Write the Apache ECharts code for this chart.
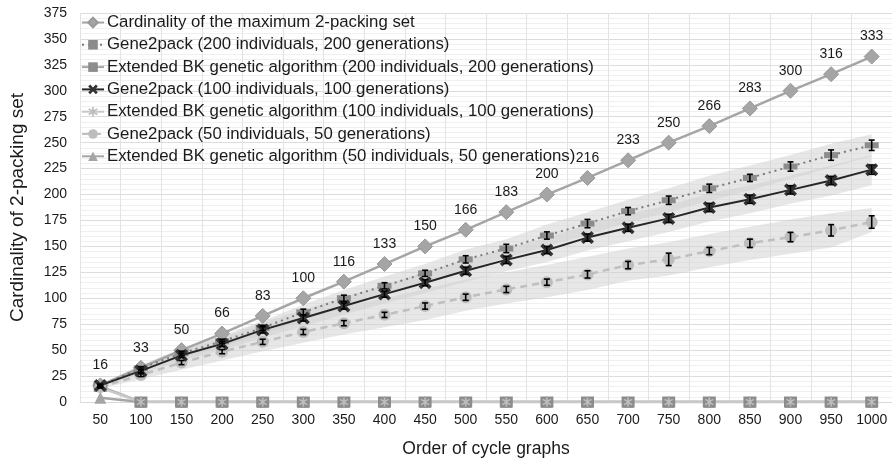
<!DOCTYPE html>
<html>
<head>
<meta charset="utf-8">
<script src="https://cdn.jsdelivr.net/npm/echarts@6/dist/echarts.min.js"></script>
<style>html,body{margin:0;padding:0;background:#fff}#c{width:892px;height:466px}</style>
</head>
<body>
<div id="c"></div>
<script>
var categories = ['50','100','150','200','250','300','350','400','450','500','550','600','650','700','750','800','850','900','950','1000'];
var yTicks = [0,25,50,75,100,125,150,175,200,225,250,275,300,325,350,375];

var maxPacking = [16,33,50,66,83,100,116,133,150,166,183,200,216,233,250,266,283,300,316,333];
var g2p200 = [16,32.5,47,58.5,71.5,86.5,100,112,124,137.5,148,160.5,172,184,194.5,206,216,227,238,247.5];
var g2p200Err = [1,1.5,2,2,2.5,3,3,3,3,3.5,4,3.5,4,3.5,4,4,3.5,4.5,5,5];
var g2p200Lo = [15,29,43,53,65,79,92,103,115,128,139,150,161,173,183,194,204,215,226,237];
var g2p200Hi = [17,36,51,64,78,94,108,121,133,147,157,171,183,195,206,218,228,238,249,258];
var ebk200 = [15,0,0,0,0,0,0,0,0,0,0,0,0,0,0,0,0,0,0,0];
var g2p100 = [16,30,45,56,69.5,81,92.5,104,115,126.5,137,146.5,158.5,168,177,187.5,195.5,204.5,213.5,224];
var g2p100Err = [1,1.5,2,2.5,3,3,3,3,3,3.5,3.5,3.5,3.5,3.5,4,4,4,4,4,4.5];
var g2p100Lo = [15,27,40,50,62,73,84,95,105,116,126,135,146,155,164,174,182,191,199,209];
var g2p100Hi = [17,33,50,62,77,89,101,113,125,137,148,158,171,181,190,201,209,218,228,238];
var ebk100 = [14,0,0,0,0,0,0,0,0,0,0,0,0,0,0,0,0,0,0,0];
var g2p50 = [14.5,26,38,48.5,58,67.5,76,84,92.5,101,108.5,115.5,123,132,137.5,145.5,153,159,165.5,173.5];
var g2p50Err = [1,1.5,2,2,2.5,2.5,2.5,2.5,3,3,3,3,3.5,3.5,6,3.5,4,4.5,5.5,6];
var g2p50Lo = [13,22,31,40,49,57,65,72,79,88,95,101,108,117,122,130,137,143,149,164];
var g2p50Hi = [16,30,45,58,70,82,92,100,109,118,125,132,140,148,154,162,169,176,182,187];
var ebk50 = [4,0,0,0,0,0,0,0,0,0,0,0,0,0,0,0,0,0,0,0];

var names = [
  'Cardinality of the maximum 2-packing set',
  'Gene2pack (200 individuals, 200 generations)',
  'Extended BK genetic algorithm (200 individuals, 200 generations)',
  'Gene2pack (100 individuals, 100 generations)',
  'Extended BK genetic algorithm (100 individuals, 100 generations)',
  'Gene2pack (50 individuals, 50 generations)',
  'Extended BK genetic algorithm (50 individuals, 50 generations)'
];

var FONT = 'Liberation Sans, Arial, sans-serif';
var xSym = 'path://M0,2L2,0L5,3L8,0L10,2L7,5L10,8L8,10L5,7L2,10L0,8L3,5Z';
var starSym = 'path://M4.2,0L5.8,0L5.8,3.1L8.5,1.4L9.4,2.8L6.6,4.5L6.6,5.5L9.4,7.2L8.5,8.6L5.8,6.9L5.8,10L4.2,10L4.2,6.9L1.5,8.6L0.6,7.2L3.4,5.5L3.4,4.5L0.6,2.8L1.5,1.4L4.2,3.1Z';

function band(lo, hi, id) {
  var diff = hi.map(function (v, i) { return v - lo[i]; });
  return [
    { type: 'line', name: 'bandlo' + id, stack: 'b' + id, data: lo, symbol: 'none', silent: true,
      lineStyle: { opacity: 0 }, areaStyle: { opacity: 0 }, z: 1 },
    { type: 'line', name: 'bandhi' + id, stack: 'b' + id, data: diff, symbol: 'none', silent: true,
      lineStyle: { opacity: 0 }, areaStyle: { color: '#d0d0d0', opacity: 0.5 }, z: 1 }
  ];
}

function errBars(vals, errs, id) {
  return {
    type: 'custom', name: 'err' + id, z: 6, silent: true,
    data: vals.map(function (v, i) { return [i, v, errs[i]]; }),
    renderItem: function (params, api) {
      var i = api.value(0), v = api.value(1), e = api.value(2);
      var top = api.coord([i, v + e]);
      var bot = api.coord([i, v - e]);
      var w = 3;
      var st = { stroke: '#000', lineWidth: 1.6 };
      return { type: 'group', children: [
        { type: 'line', shape: { x1: top[0], y1: top[1], x2: bot[0], y2: bot[1] }, style: st },
        { type: 'line', shape: { x1: top[0] - w, y1: top[1], x2: top[0] + w, y2: top[1] }, style: st },
        { type: 'line', shape: { x1: bot[0] - w, y1: bot[1], x2: bot[0] + w, y2: bot[1] }, style: st }
      ]};
    }
  };
}

var series = [];
series = series.concat(band(g2p200Lo, g2p200Hi, 200), band(g2p100Lo, g2p100Hi, 100), band(g2p50Lo, g2p50Hi, 50));
series.push(
  { type: 'line', name: names[0], data: maxPacking, symbol: 'diamond', symbolSize: 15, z: 3,
    lineStyle: { color: '#a5a5a5', width: 2.5 }, itemStyle: { color: '#a5a5a5', borderColor: '#999', borderWidth: 1 },
    label: { show: true, position: 'top', distance: 5, fontFamily: FONT, fontSize: 14, color: '#1a1a1a' } },
  { type: 'line', name: names[1], data: g2p200, symbol: 'rect', symbolSize: [14, 6], z: 4,
    lineStyle: { color: '#7a7a7a', width: 2, type: [2, 4] }, itemStyle: { color: '#8c8c8c' } },
  { type: 'line', name: names[2], data: ebk200, symbol: 'rect', symbolSize: [13, 11], z: 4,
    lineStyle: { color: '#a5a5a5', width: 2.5 }, itemStyle: { color: '#8c8c8c' } },
  { type: 'line', name: names[3], data: g2p100, symbol: xSym, symbolSize: 13, z: 5,
    lineStyle: { color: '#262626', width: 2 }, itemStyle: { color: '#333' } },
  { type: 'line', name: names[4], data: ebk100, symbol: starSym, symbolSize: 9, z: 4,
    lineStyle: { color: '#c8c8c8', width: 2.5 }, itemStyle: { color: '#bdbdbd' } },
  { type: 'line', name: names[5], data: g2p50, symbol: 'circle', symbolSize: 12, z: 4,
    lineStyle: { color: '#bfbfbf', width: 2.5, type: [7, 5] }, itemStyle: { color: '#bdbdbd' } },
  { type: 'line', name: names[6], data: ebk50, symbol: 'triangle', symbolSize: 12, z: 3,
    lineStyle: { color: '#a5a5a5', width: 2.5 }, itemStyle: { color: '#a5a5a5' } }
);
series.push(errBars(g2p200, g2p200Err, 200), errBars(g2p100, g2p100Err, 100), errBars(g2p50, g2p50Err, 50));

var chart = echarts.init(document.getElementById('c'), null, { renderer: 'canvas' });
chart.setOption({
  animation: false,
  backgroundColor: '#fff',
  textStyle: { fontFamily: FONT },
  grid: { left: 78, right: 0, top: 13, bottom: 64, containLabel: false },
  legend: {
    data: names, orient: 'vertical', left: 81, top: 14, padding: 0,
    itemWidth: 22, itemHeight: 12, itemGap: 5.3,
    textStyle: { fontFamily: FONT, fontSize: 16.8, color: '#1a1a1a', padding: [0, 0, 0, -2] }
  },
  xAxis: {
    type: 'category', data: categories, boundaryGap: true,
    name: 'Order of cycle graphs', nameLocation: 'middle', nameGap: 38,
    nameTextStyle: { fontFamily: FONT, fontSize: 17.5, color: '#1a1a1a' },
    axisLine: { show: true, lineStyle: { color: '#d9d9d9' } },
    axisTick: { show: false },
    axisLabel: { fontFamily: FONT, fontSize: 14, color: '#1a1a1a', margin: 11 },
    splitLine: { show: true, lineStyle: { color: '#e3e3e3', width: 1 } }
  },
  yAxis: {
    type: 'value', min: yTicks[0], max: yTicks[yTicks.length - 1], interval: 25,
    name: 'Cardinality of 2-packing set', nameLocation: 'middle', nameGap: 53,
    nameTextStyle: { fontFamily: FONT, fontSize: 19, color: '#1a1a1a' },
    axisLine: { show: false }, axisTick: { show: false },
    axisLabel: { fontFamily: FONT, fontSize: 14, color: '#1a1a1a', margin: 13 },
    splitLine: { show: true, lineStyle: { color: '#dcdcdc', width: 1 } },
    minorTick: { show: false, splitNumber: 5 },
    minorSplitLine: { show: true, lineStyle: { color: '#f0f0f0', width: 1 } }
  },
  series: series
});
</script>
</body>
</html>
